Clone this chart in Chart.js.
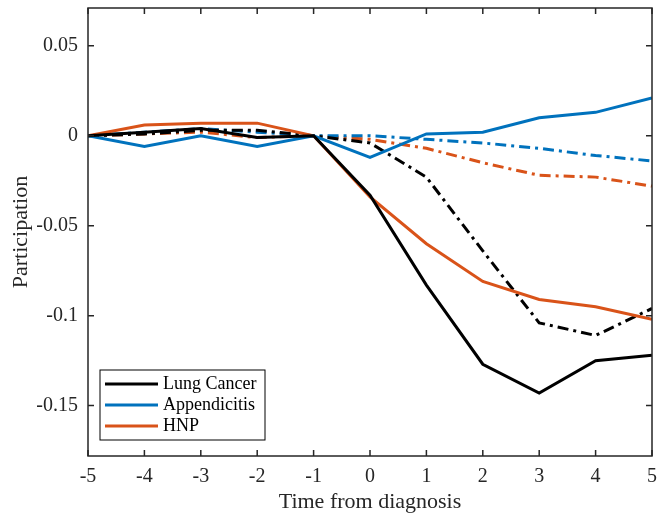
<!DOCTYPE html>
<html>
<head>
<meta charset="utf-8">
<script src="https://cdn.jsdelivr.net/npm/chart.js@4"></script>
<style>
  html, body { margin: 0; padding: 0; background: #fff; }
  #wrap { width: 660px; height: 515px; }
</style>
</head>
<body>
<div id="wrap"><canvas id="chart" width="660" height="515"></canvas></div>
<script>
const years = [-5, -4, -3, -2, -1, 0, 1, 2, 3, 4, 5];
const yTicks = [-0.15, -0.1, -0.05, 0, 0.05];

const lungSolid = [0, 0.002, 0.004, -0.001, 0, -0.033, -0.083, -0.127, -0.143, -0.125, -0.122];
const lungDash  = [0, 0.001, 0.003, 0.003, 0, -0.004, -0.023, -0.064, -0.104, -0.111, -0.096];
const appSolid  = [0, -0.006, 0, -0.006, 0, -0.012, 0.001, 0.002, 0.010, 0.013, 0.021];
const appDash   = [0, 0.002, 0.004, 0.002, 0, 0, -0.002, -0.004, -0.007, -0.011, -0.014];
const hnpSolid  = [0, 0.006, 0.007, 0.007, 0, -0.034, -0.060, -0.081, -0.091, -0.095, -0.102];
const hnpDash   = [0, 0.001, 0.002, -0.001, 0, -0.002, -0.007, -0.015, -0.022, -0.023, -0.028];

const legendNames = ['Lung Cancer', 'Appendicitis', 'HNP'];
const colors = ['#000000', '#0072BD', '#D95319'];

const dashDot = [11, 5, 3, 5];
const serif = "'Liberation Serif', 'Times New Roman', serif";

function line(data, color, dashed) {
  return {
    data: years.map((x, i) => ({ x: x, y: data[i] })),
    borderColor: color,
    backgroundColor: color,
    borderWidth: 3,
    borderDash: dashed ? dashDot : [],
    pointRadius: 0,
    tension: 0,
    fill: false
  };
}

// frame with inward ticks + legend box, like the matlab figure
const framePlugin = {
  id: 'frame',
  afterDraw(chart) {
    const ctx = chart.ctx;
    const a = chart.chartArea;
    const xs = chart.scales.x, ys = chart.scales.y;
    ctx.save();
    ctx.strokeStyle = '#262626';
    ctx.lineWidth = 1.5;
    ctx.strokeRect(a.left, a.top, a.right - a.left, a.bottom - a.top);
    ctx.beginPath();
    years.forEach(v => {
      const px = xs.getPixelForValue(v);
      ctx.moveTo(px, a.bottom); ctx.lineTo(px, a.bottom - 6);
      ctx.moveTo(px, a.top); ctx.lineTo(px, a.top + 6);
    });
    yTicks.forEach(v => {
      const py = ys.getPixelForValue(v);
      ctx.moveTo(a.left, py); ctx.lineTo(a.left + 6, py);
      ctx.moveTo(a.right, py); ctx.lineTo(a.right - 6, py);
    });
    ctx.stroke();

    // legend
    const lx = a.left + 12, ly = a.top + 362, lw = 165, lh = 70;
    ctx.fillStyle = '#fff';
    ctx.fillRect(lx, ly, lw, lh);
    ctx.strokeStyle = '#000';
    ctx.lineWidth = 1;
    ctx.strokeRect(lx, ly, lw, lh);
    ctx.font = '18px ' + serif;
    ctx.textBaseline = 'middle';
    legendNames.forEach((name, i) => {
      const y = ly + 14 + i * 21;
      ctx.strokeStyle = colors[i];
      ctx.lineWidth = 3;
      ctx.beginPath();
      ctx.moveTo(lx + 5, y); ctx.lineTo(lx + 58, y);
      ctx.stroke();
      ctx.fillStyle = '#000';
      ctx.fillText(name, lx + 63, y);
    });
    ctx.restore();
  }
};

new Chart(document.getElementById('chart').getContext('2d'), {
  type: 'line',
  data: {
    datasets: [
      line(lungSolid, colors[0], false),
      line(appSolid, colors[1], false),
      line(hnpSolid, colors[2], false),
      line(lungDash, colors[0], true),
      line(appDash, colors[1], true),
      line(hnpDash, colors[2], true)
    ]
  },
  options: {
    responsive: false,
    animation: false,
    layout: { padding: { top: 8, right: 8, left: 0, bottom: 0 } },
    plugins: { legend: { display: false }, tooltip: { enabled: false } },
    scales: {
      x: {
        type: 'linear',
        min: -5,
        max: 5,
        grid: { display: false, drawTicks: false },
        border: { display: false },
        afterBuildTicks: s => { s.ticks = years.map(v => ({ value: v })); },
        afterFit: s => { s.height = 59; s.paddingLeft = 0; s.paddingRight = 0; },
        ticks: {
          color: '#262626',
          padding: 9,
          font: { family: serif, size: 20 },
          maxRotation: 0,
          callback: v => String(v)
        },
        title: {
          display: true,
          text: 'Time from diagnosis',
          color: '#262626',
          font: { family: serif, size: 22 },
          padding: { top: 5, bottom: 0 }
        }
      },
      y: {
        min: -0.178,
        max: 0.071,
        grid: { display: false, drawTicks: false },
        border: { display: false },
        afterBuildTicks: s => { s.ticks = yTicks.map(v => ({ value: v })); },
        afterFit: s => { s.width = 88; s.paddingTop = 0; s.paddingBottom = 0; },
        ticks: {
          color: '#262626',
          padding: 10,
          font: { family: serif, size: 20 },
          callback: v => String(+v.toFixed(3))
        },
        title: {
          display: true,
          text: 'Participation',
          color: '#262626',
          font: { family: serif, size: 22 },
          padding: { top: 8, bottom: 0 }
        }
      }
    }
  },
  plugins: [framePlugin]
});
</script>
</body>
</html>
